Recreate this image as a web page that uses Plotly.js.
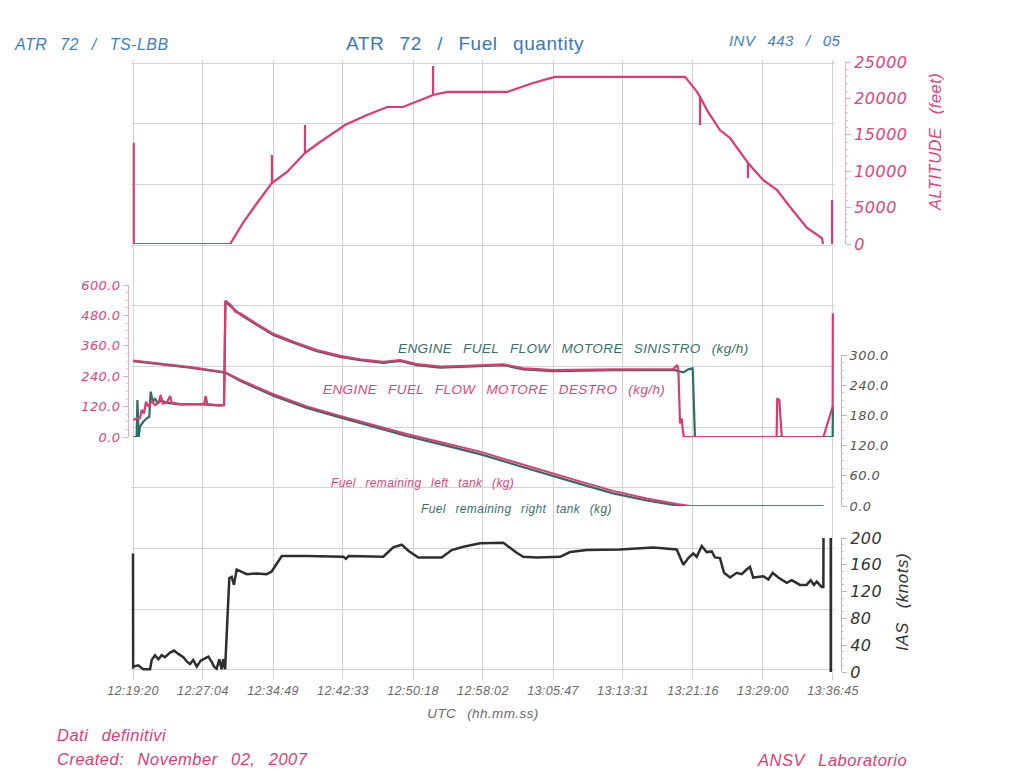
<!DOCTYPE html>
<html>
<head>
<meta charset="utf-8">
<script src="https://cdn.plot.ly/plotly-3.0.1.min.js"></script>
<style>
  html, body { margin: 0; padding: 0; background: #ffffff; }
  #chart { width: 1030px; height: 769px; }
  text { word-spacing: 0.5em; letter-spacing: 0.03em; }
</style>
</head>
<body>
<div id="chart"></div>
<script>
// ---- Time axis (tick labels, UTC hh:mm:ss) ----
const TIME_TICKS = ['12:19:20','12:27:04','12:34:49','12:42:33','12:50:18','12:58:02',
                    '13:05:47','13:13:31','13:21:16','13:29:00','13:36:45'];

// All series times below are seconds elapsed since 12:19:20 UTC.

// ---- Altitude (feet) ----
const altT = [5,5,644,710,730,823,922,922,922,1022,1141,1141,1141,1241,1407,1553,1686,1792,1905,
              1991,1991,1991,2084,2482,2654,2800,3663,3743,3763,3763,3763,3816,3895,3962,
              4081,4081,4081,4181,4274,4360,4473,4572,4579,null,4639,4639];
const altFt = [13900,0,0,2340,2890,5630,8380,12230,8380,9890,12500,16350,12500,14010,16350,17720,18820,18820,19790,
               20470,24460,20470,20890,20890,22120,22950,22950,20890,20200,16350,20200,18140,15660,14560,
               11130,9070,11130,8790,7420,5080,2200,820,0,null,0,6050];

// ---- Engine fuel flow, right engine / MOTORE DESTRO (kg/h) ----
const ffRightT = [2,24,46,58,73,86,102,124,146,168,184,197,224,246,257,312,445,473,482,493,555,577,604,
                  613,633,655,677,710,798,931,1064,1219,1374,1506,1661,1772,1883,2037,2214,
                  2303,2457,2590,2789,3187,3585,3612,3619,3630,3641,3648,3656,4271,4275,4289,4305,4581,4643,4644];
const ffRight = [67,74,74,107,93,139,120,143,126,135,166,132,135,162,135,130,130,132,162,130,126,125,126,
                 538,528,517,495,488,455,407,376,343,320,307,297,304,288,278,281,
                 284,287,271,264,267,268,284,264,54,74,28,0,0,153,146,0,0,120,488];

// ---- Engine fuel flow, left engine / MOTORE SINISTRO (kg/h) ----
const ffLeftT = [2,24,29,38,46,68,91,108,117,131,146,161,190,224,312,467,577,604,
                 613,633,710,798,931,1064,1219,1374,1506,1661,1772,1883,2037,
                 2303,2457,2590,2789,3187,3597,3652,3685,3714,3729,4643,4644];
const ffLeft = [0,0,146,0,41,60,74,80,179,139,153,135,143,135,129,129,124,126,
                534,524,484,451,403,372,339,316,303,293,300,284,274,
                280,284,267,260,264,264,255,267,271,0,0,120];

// ---- Fuel remaining, left tank (kg) ----
const fuelLeftT = [2,157,378,611,710,931,1153,1374,1595,1816,2037,2303,2524,2745,2966,3187,3409,3608,3700,4581];
const fuelLeft  = [289,284,276,266,251,222,198,179,161,143,127,108,88,68,49,30,15,4,0,0];

// ---- Fuel remaining, right tank (kg) ----
const fuelRightT = [2,157,378,611,710,931,1153,1374,1595,1816,2037,2303,2524,2745,2966,3187,3409,3608,3674,4581];
const fuelRight  = [288,283,275,265,249,219,195,176,157,139,123,103,83,63,44,25,11,1,0,0];

// ---- Indicated airspeed (knots) ----
const iasT = [0,1,2,35,68,113,124,146,168,190,212,246,272,301,334,360,378,400,423,449,478,500,522,538,555,573,588,599,611,
              626,639,655,670,688,721,754,821,887,920,987,1153,1396,1413,1431,1661,1727,1783,1827,1893,2048,2115,2192,
              2303,2457,2546,2590,2679,2834,2900,3011,3232,3453,3608,3652,3685,3718,3741,3774,3807,3840,3862,3895,
              3922,3962,4006,4039,4072,4094,4116,4183,4216,4245,4282,4338,4371,4426,4470,4497,4519,4537,4570,4581,4582,
              null,4630,4630];
const iasKt = [177,5,8,10,4,4,18,25,19,25,22,29,32,27,22,15,12,18,8,17,20,23,15,8,5,19,4,19,4,
               78,140,142,130,153,150,146,147,146,150,173,173,172,169,173,172,186,190,181,171,171,182,187,
               192,193,178,172,171,172,179,182,183,186,183,160,170,177,172,188,179,180,171,170,
               148,141,148,146,153,157,141,143,138,148,141,133,137,130,130,137,130,135,127,127,200,
               null,200,0];

// ---- colours ----
const PINK = '#de3a70';
const TEAL = '#2f6d67';
const DARK = '#2e2e2e';
const GRID = '#d2d2d2';

// tick positions derived from the tick labels
function toSec(s) { const p = s.split(':').map(Number); return p[0]*3600 + p[1]*60 + p[2]; }
const T0 = toSec(TIME_TICKS[0]);
const tickVals = TIME_TICKS.map(s => toSec(s) - T0);
const tEnd = tickVals[tickVals.length - 1];
const XRANGE = [tickVals[0] - 14, tEnd + 14];   // small pad so the edge grid lines are drawn

const traces = [
  // invisible carrier for the shared time grid subplot
  {x: [tickVals[0], tEnd], y: [0, 10], xaxis: 'x', yaxis: 'y', mode: 'markers', name: 'grid',
   marker: {opacity: 0, size: 1}, hoverinfo: 'skip'},
  {x: altT, y: altFt, xaxis: 'x2', yaxis: 'y2', mode: 'lines', name: 'Altitude',
   line: {color: PINK, width: 2.2}, connectgaps: false},
  {x: ffLeftT, y: ffLeft, xaxis: 'x2', yaxis: 'y3', mode: 'lines', name: 'Engine fuel flow motore sinistro',
   line: {color: TEAL, width: 2.2}},
  {x: ffRightT, y: ffRight, xaxis: 'x2', yaxis: 'y3', mode: 'lines', name: 'Engine fuel flow motore destro',
   line: {color: PINK, width: 2.2}},
  {x: fuelRightT, y: fuelRight, xaxis: 'x2', yaxis: 'y4', mode: 'lines', name: 'Fuel remaining right tank',
   line: {color: TEAL, width: 2.2}},
  {x: fuelLeftT, y: fuelLeft, xaxis: 'x2', yaxis: 'y4', mode: 'lines', name: 'Fuel remaining left tank',
   line: {color: PINK, width: 2.0}},
  {x: iasT, y: iasKt, xaxis: 'x2', yaxis: 'y5', mode: 'lines', name: 'IAS',
   line: {color: DARK, width: 2.5}, connectgaps: false}
];

// layout geometry (plot area 120..850 px horizontally, 58..674 px vertically)
const XDOM = [10.9/730, 715.1/730];
const H = 616;
const FONT = 'Liberation Sans, Arial, sans-serif';
const NUMFONT = 'DejaVu Sans, Liberation Sans, sans-serif';

const layout = {
  width: 1030, height: 769,
  margin: {l: 120, r: 180, t: 58, b: 95},
  paper_bgcolor: '#ffffff',
  plot_bgcolor: 'rgba(0,0,0,0)',
  showlegend: false,
  title: {text: 'ATR 72 / Fuel quantity', xref: 'container', yref: 'container',
          x: 0.4515, xanchor: 'center', y: 0.944, yanchor: 'middle',
          font: {family: FONT, size: 19, color: '#3c78b6'}},
  xaxis: {domain: XDOM, range: XRANGE, anchor: 'y',
          tickmode: 'array', tickvals: tickVals, ticktext: TIME_TICKS,
          showgrid: true, gridcolor: GRID, gridwidth: 1, zeroline: false, showline: false,
          ticks: 'outside', ticklen: 6, tickcolor: GRID,
          tickfont: {family: FONT, size: 12.5, color: '#6a6a6a', style: 'italic'},
          title: {text: 'UTC (hh.mm.ss)', standoff: 11,
                  font: {family: FONT, size: 13.5, color: '#6a6a6a', style: 'italic'}}},
  xaxis2: {domain: XDOM, range: XRANGE, anchor: 'y2', visible: false, showgrid: false, zeroline: false},
  yaxis: {domain: [1/H, 614/H], range: [-0.05, 10.05], dtick: 1, tick0: 0, anchor: 'x',
          showgrid: true, gridcolor: GRID, gridwidth: 1, zeroline: false, showline: false,
          showticklabels: false, ticks: ''},
  yaxis2: {domain: [430/H, 612/H], range: [0, 25000], anchor: 'free', side: 'right', position: 725/730,
           tickmode: 'linear', tick0: 0, dtick: 5000, tickformat: 'd', showgrid: false, zeroline: false,
           showline: true, linecolor: '#eba9bd', linewidth: 1,
           ticks: 'outside', ticklen: 5, tickcolor: '#eba9bd',
           minor: {ticks: 'outside', ticklen: 2, dtick: 1000, tickcolor: '#f0c0cf'},
           tickfont: {family: NUMFONT, size: 16, color: '#e0457a', style: 'italic'}},
  yaxis3: {domain: [237/H, 389/H], range: [0, 600], anchor: 'free', side: 'left', position: 8/730,
           tickmode: 'linear', tick0: 0, dtick: 120, tickformat: '.1f', showgrid: false, zeroline: false,
           showline: true, linecolor: '#eba9bd', linewidth: 1,
           ticks: 'outside', ticklen: 5, tickcolor: '#eba9bd',
           minor: {ticks: 'outside', ticklen: 2, dtick: 30, tickcolor: '#f0c0cf'},
           tickfont: {family: NUMFONT, size: 13, color: '#e0457a', style: 'italic'}},
  yaxis4: {domain: [168/H, 319/H], range: [0, 300], anchor: 'free', side: 'right', position: 721/730,
           tickmode: 'linear', tick0: 0, dtick: 60, tickformat: '.1f', showgrid: false, zeroline: false,
           showline: true, linecolor: '#b8b8b8', linewidth: 1,
           ticks: 'outside', ticklen: 5, tickcolor: '#b8b8b8',
           minor: {ticks: 'outside', ticklen: 2, dtick: 15, tickcolor: '#cccccc'},
           tickfont: {family: NUMFONT, size: 13, color: '#555555', style: 'italic'}},
  yaxis5: {domain: [2/H, 136/H], range: [0, 200], anchor: 'free', side: 'right', position: 721/730,
           tickmode: 'linear', tick0: 0, dtick: 40, showgrid: false, zeroline: false,
           showline: true, linecolor: '#b8b8b8', linewidth: 1,
           ticks: 'outside', ticklen: 5, tickcolor: '#b8b8b8',
           minor: {ticks: 'outside', ticklen: 2, dtick: 10, tickcolor: '#cccccc'},
           tickfont: {family: NUMFONT, size: 16, color: '#333333', style: 'italic'}},
  annotations: [
    {text: 'ATR 72 / TS-LBB', xref: 'paper', yref: 'paper', x: -108/730, y: 630/H,
     xanchor: 'left', yanchor: 'middle', showarrow: false,
     font: {family: FONT, size: 16, color: '#3b7fc4', style: 'italic'}},
    {text: 'INV 443 / 05', xref: 'paper', yref: 'paper', x: 607/730, y: 633/H,
     xanchor: 'left', yanchor: 'middle', showarrow: false,
     font: {family: FONT, size: 15, color: '#3b7fc4', style: 'italic'}},
    {text: 'ALTITUDE (feet)', xref: 'paper', yref: 'paper', x: 815/730, y: 532/H,
     xanchor: 'center', yanchor: 'middle', textangle: -90, showarrow: false,
     font: {family: FONT, size: 16.5, color: '#e0457a', style: 'italic'}},
    {text: 'IAS (knots)', xref: 'paper', yref: 'paper', x: 782/730, y: 72/H,
     xanchor: 'center', yanchor: 'middle', textangle: -90, showarrow: false,
     font: {family: FONT, size: 17, color: '#333333', style: 'italic'}},
    {text: 'ENGINE FUEL FLOW MOTORE SINISTRO (kg/h)', xref: 'x2', yref: 'y3', x: 2926, y: 351,
     xanchor: 'center', yanchor: 'middle', showarrow: false,
     font: {family: FONT, size: 13.5, color: '#3b6f6a', style: 'italic'}},
    {text: 'ENGINE FUEL FLOW MOTORE DESTRO (kg/h)', xref: 'x2', yref: 'y3', x: 2396, y: 189,
     xanchor: 'center', yanchor: 'middle', showarrow: false,
     font: {family: FONT, size: 13.5, color: '#e0457a', style: 'italic'}},
    {text: 'Fuel remaining left tank (kg)', xref: 'x2', yref: 'y4', x: 1924, y: 45.5,
     xanchor: 'center', yanchor: 'middle', showarrow: false,
     font: {family: FONT, size: 12, color: '#e0457a', style: 'italic'}},
    {text: 'Fuel remaining right tank (kg)', xref: 'paper', yref: 'paper', x: 396/730, y: 165/H,
     xanchor: 'center', yanchor: 'middle', showarrow: false,
     font: {family: FONT, size: 12, color: '#3b6f6a', style: 'italic'}},
    {text: 'Dati definitivi', xref: 'paper', yref: 'paper', x: -65/730, y: -61/H,
     xanchor: 'left', yanchor: 'middle', showarrow: false,
     font: {family: FONT, size: 16.5, color: '#e03c72', style: 'italic'}},
    {text: 'Created: November 02, 2007', xref: 'paper', yref: 'paper', x: -65/730, y: -85/H,
     xanchor: 'left', yanchor: 'middle', showarrow: false,
     font: {family: FONT, size: 16.5, color: '#e03c72', style: 'italic'}},
    {text: 'ANSV Laboratorio', xref: 'paper', yref: 'paper', x: 635/730, y: -86/H,
     xanchor: 'left', yanchor: 'middle', showarrow: false,
     font: {family: FONT, size: 16.5, color: '#e03c72', style: 'italic'}}
  ]
};

Plotly.newPlot('chart', traces, layout, {displayModeBar: false, staticPlot: true});
</script>
</body>
</html>
